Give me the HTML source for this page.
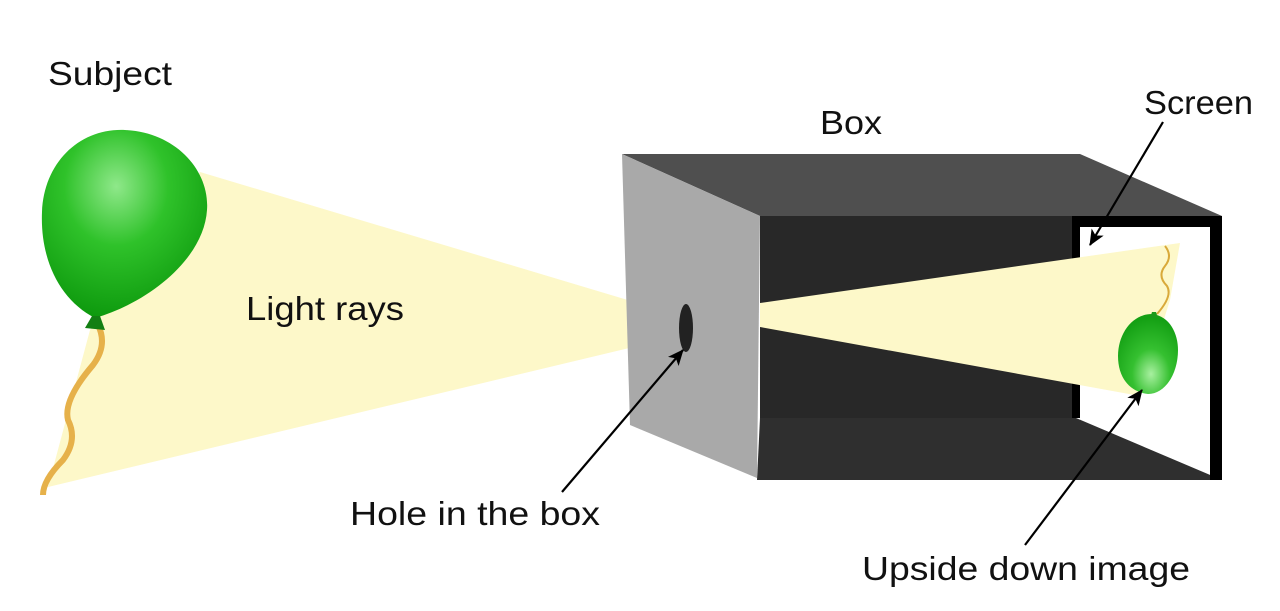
<!DOCTYPE html>
<html><head><meta charset="utf-8"><style>
html,body{margin:0;padding:0;background:#fff;}
svg{display:block;}
text{font-family:"Liberation Sans",sans-serif;font-size:33px;fill:#111;}
</style></head><body>
<svg width="1280" height="611" viewBox="0 0 1280 611" xmlns="http://www.w3.org/2000/svg">
<defs>
<radialGradient id="bg" cx="0.45" cy="0.3" r="0.7">
<stop offset="0" stop-color="#8fe88a"/><stop offset="0.45" stop-color="#2fc22a"/><stop offset="1" stop-color="#0e9a0e"/>
</radialGradient>
<radialGradient id="sg" cx="0.55" cy="0.75" r="0.7">
<stop offset="0" stop-color="#a8f0a0"/><stop offset="0.45" stop-color="#35c030"/><stop offset="1" stop-color="#14a014"/>
</radialGradient>
<marker id="ah" markerWidth="16" markerHeight="14" refX="15" refY="7" orient="auto" markerUnits="userSpaceOnUse">
<path d="M0,0 L16,7 L0,14 L4,7 z" fill="#000"/>
</marker>
</defs>
<polygon points="200,172 688,318 688,334 48,487 90,330" fill="#fdf8c9"/>
<polygon points="622,154 1080,154 1222,216 760,216" fill="#4f4f4f"/>
<polygon points="622,154 760,216 757,478 630,425" fill="#a9a9a9"/>
<rect x="760" y="216" width="316" height="204" fill="#282828"/>
<polygon points="760,418 1076,418 1222,480 757,480" fill="#2f2f2f"/>
<polygon points="1072,216 1222,216 1222,480 1210,480 1210,227 1080,227 1080,418 1072,418" fill="#000"/>
<polygon points="1080,227 1210,227 1210,474 1080,418" fill="#fff"/>
<ellipse cx="686" cy="328" rx="7" ry="24" fill="#222"/>
<polygon points="760,303 1180,243 1170,300 1140,396 760,327" fill="#fdf8c9"/>
<path d="M1165,246 q8,10 0,20 q-8,10 2,20 q6,10 -10,28" fill="none" stroke="#d9a93a" stroke-width="2"/>
<path d="M1148,394 C1130,392 1118,378 1118,356 C1118,334 1132,314 1152,314 C1170,316 1178,334 1178,350 C1178,374 1165,394 1148,394 Z" fill="url(#sg)"/>
<path d="M1150,318 l8,0 l-2,-6 l-4,0z" fill="#1a9a1a"/>
<path d="M98,325 q10,20 -5,40 q-30,35 -25,55 q10,20 -5,40 q-20,20 -20,35" fill="none" stroke="#e6b14a" stroke-width="6"/>
<path d="M95,318 C60,300 40,260 42,212 C44,162 80,128 125,130 C175,132 210,170 207,210 C204,258 150,302 95,318 Z" fill="url(#bg)"/>
<path d="M85,328 l20,2 l-5,-14 l-8,0z" fill="#137f13"/>
<line x1="1163" y1="122" x2="1090" y2="245" stroke="#000" stroke-width="2.2" marker-end="url(#ah)"/>
<line x1="562" y1="492" x2="683" y2="350" stroke="#000" stroke-width="2.2" marker-end="url(#ah)"/>
<line x1="1025" y1="545" x2="1142" y2="390" stroke="#000" stroke-width="2.2" marker-end="url(#ah)"/>
<text x="48" y="85" textLength="124" lengthAdjust="spacingAndGlyphs">Subject</text>
<text x="820" y="134" textLength="62" lengthAdjust="spacingAndGlyphs">Box</text>
<text x="1144" y="114" textLength="109" lengthAdjust="spacingAndGlyphs">Screen</text>
<text x="246" y="320" textLength="158" lengthAdjust="spacingAndGlyphs">Light rays</text>
<text x="350" y="525" textLength="250" lengthAdjust="spacingAndGlyphs">Hole in the box</text>
<text x="862" y="580" textLength="328" lengthAdjust="spacingAndGlyphs">Upside down image</text>
</svg>
</body></html>
